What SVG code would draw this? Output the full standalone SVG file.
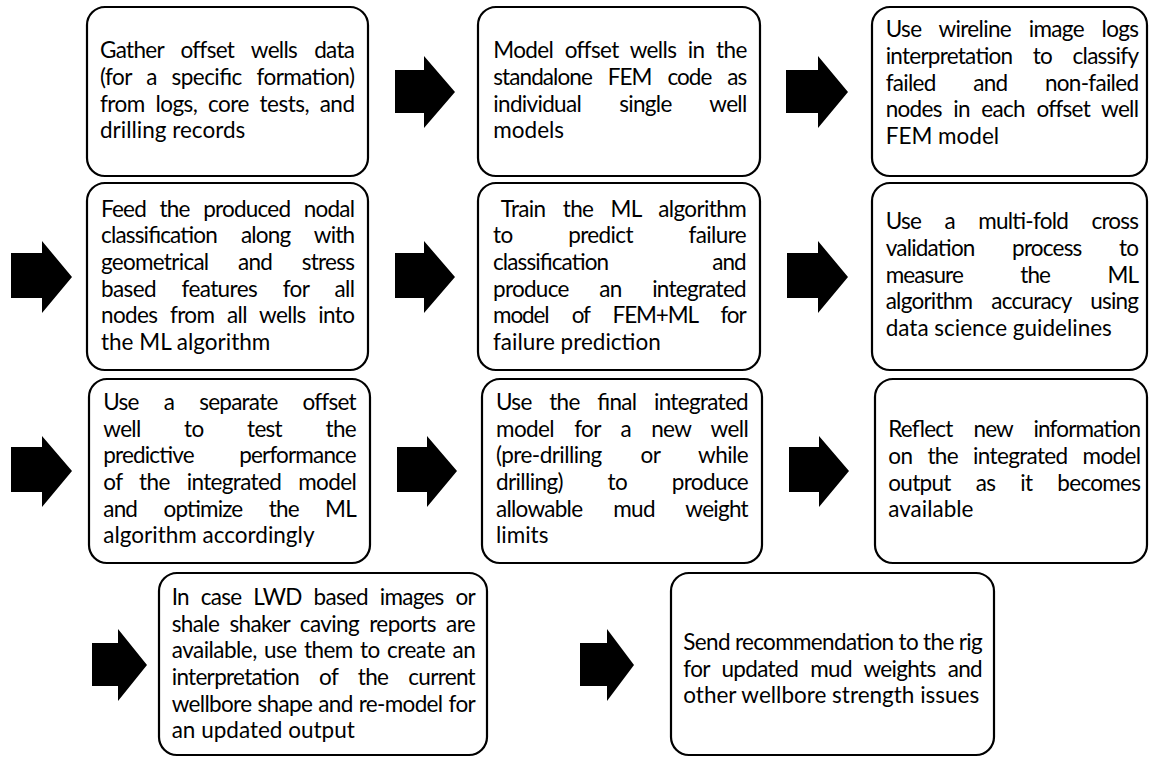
<svg xmlns="http://www.w3.org/2000/svg" width="1149" height="757" viewBox="0 0 1149 757">
<style>
.box{fill:#fff;stroke:#000;stroke-width:2.2}
.arr{fill:#000;stroke:none}
.t{font-family:Lato,"Liberation Sans",sans-serif;font-size:22.5px;fill:#000}
</style>
<rect width="1149" height="757" fill="#fff"/>
<g id="connectors">
<polygon class="arr" points="395,70 424,70 424,56 455,92 424,128 424,113 395,113"/>
<polygon class="arr" points="786,70 818,70 818,56 848,92 818,128 818,113 786,113"/>
<polygon class="arr" points="11,253 42,253 42,241 72,277 42,313 42,298 11,298"/>
<polygon class="arr" points="395,253 424,253 424,241 455,277 424,313 424,298 395,298"/>
<polygon class="arr" points="787,253 818,253 818,241 848,277 818,313 818,298 787,298"/>
<polygon class="arr" points="11,447 42,447 42,436 72,471 42,507 42,492 11,492"/>
<polygon class="arr" points="397,447 427,447 427,436 457,471 427,507 427,492 397,492"/>
<polygon class="arr" points="789,447 819,447 819,436 849,471 819,507 819,492 789,492"/>
<polygon class="arr" points="92,643 118,643 118,629 147,665 118,701 118,686 92,686"/>
<polygon class="arr" points="580,643 607,643 607,629 634,665 607,701 607,686 580,686"/>
</g>
<g id="n1">
<rect class="box" x="87" y="7" width="281" height="169" rx="18"/>
<text class="t" x="100" y="58.3" textLength="255" lengthAdjust="spacing" word-spacing="12">Gather offset wells data</text>
<text class="t" x="100" y="85" textLength="255" lengthAdjust="spacing" word-spacing="9.5">(for a specific formation)</text>
<text class="t" x="100" y="111.7" textLength="255" lengthAdjust="spacing" word-spacing="5.5">from logs, core tests, and</text>
<text class="t" x="100" y="138.3">drilling records</text>
</g>
<g id="n2">
<rect class="box" x="478" y="7" width="282" height="169" rx="18"/>
<text class="t" x="493.3" y="58.3" textLength="254" lengthAdjust="spacing" word-spacing="6.5">Model offset wells in the</text>
<text class="t" x="493.3" y="85" textLength="254" lengthAdjust="spacing" word-spacing="11">standalone FEM code as</text>
<text class="t" x="493.3" y="111.7" textLength="254" lengthAdjust="spacing" word-spacing="33">individual single well</text>
<text class="t" x="493.3" y="138.3">models</text>
</g>
<g id="n3">
<rect class="box" x="872" y="7" width="275" height="169" rx="18"/>
<text class="t" x="885.7" y="37.3" textLength="253.3" lengthAdjust="spacing" word-spacing="12.5">Use wireline image logs</text>
<text class="t" x="885.7" y="64" textLength="253.3" lengthAdjust="spacing" word-spacing="15.5">interpretation to classify</text>
<text class="t" x="885.7" y="90.7" textLength="253.3" lengthAdjust="spacing" word-spacing="32.5">failed and non-failed</text>
<text class="t" x="885.7" y="117.3" textLength="253.3" lengthAdjust="spacing" word-spacing="6.5">nodes in each offset well</text>
<text class="t" x="885.7" y="144">FEM model</text>
</g>
<g id="n4">
<rect class="box" x="87" y="183" width="281" height="187" rx="18"/>
<text class="t" x="101" y="216.7" textLength="254" lengthAdjust="spacing" word-spacing="8.5">Feed the produced nodal</text>
<text class="t" x="101" y="243.3" textLength="254" lengthAdjust="spacing" word-spacing="19">classification along with</text>
<text class="t" x="101" y="270" textLength="254" lengthAdjust="spacing" word-spacing="24.5">geometrical and stress</text>
<text class="t" x="101" y="296.7" textLength="254" lengthAdjust="spacing" word-spacing="20.5">based features for all</text>
<text class="t" x="101" y="323.3" textLength="254" lengthAdjust="spacing" word-spacing="7.5">nodes from all wells into</text>
<text class="t" x="101" y="350">the ML algorithm</text>
</g>
<g id="n5">
<rect class="box" x="478" y="183" width="282" height="187" rx="18"/>
<text class="t" x="500.7" y="216.7" textLength="246" lengthAdjust="spacing" word-spacing="12">Train the ML algorithm</text>
<text class="t" x="493" y="243.3" textLength="253.7" lengthAdjust="spacing" word-spacing="50.5">to predict failure</text>
<text class="t" x="493" y="270" textLength="253.7" lengthAdjust="spacing" word-spacing="99">classification and</text>
<text class="t" x="493" y="296.7" textLength="253.7" lengthAdjust="spacing" word-spacing="25.5">produce an integrated</text>
<text class="t" x="493" y="323.3" textLength="253.7" lengthAdjust="spacing" word-spacing="18.5">model of FEM+ML for</text>
<text class="t" x="493" y="350">failure prediction</text>
</g>
<g id="n6">
<rect class="box" x="872" y="183" width="275" height="187" rx="18"/>
<text class="t" x="885.7" y="229.3" textLength="253.3" lengthAdjust="spacing" word-spacing="18.5">Use a multi-fold cross</text>
<text class="t" x="885.7" y="256" textLength="253.3" lengthAdjust="spacing" word-spacing="32.5">validation process to</text>
<text class="t" x="885.7" y="282.7" textLength="253.3" lengthAdjust="spacing" word-spacing="52.5">measure the ML</text>
<text class="t" x="885.7" y="309.3" textLength="253.3" lengthAdjust="spacing" word-spacing="14">algorithm accuracy using</text>
<text class="t" x="885.7" y="336">data science guidelines</text>
</g>
<g id="n7">
<rect class="box" x="89" y="379" width="281" height="184" rx="18"/>
<text class="t" x="103.3" y="410" textLength="253.4" lengthAdjust="spacing" word-spacing="20">Use a separate offset</text>
<text class="t" x="103.3" y="436.7" textLength="253.4" lengthAdjust="spacing" word-spacing="38.5">well to test the</text>
<text class="t" x="103.3" y="463.3" textLength="253.4" lengthAdjust="spacing" word-spacing="40.5">predictive performance</text>
<text class="t" x="103.3" y="490" textLength="253.4" lengthAdjust="spacing" word-spacing="12">of the integrated model</text>
<text class="t" x="103.3" y="516.7" textLength="253.4" lengthAdjust="spacing" word-spacing="21.5">and optimize the ML</text>
<text class="t" x="103.3" y="543.3">algorithm accordingly</text>
</g>
<g id="n8">
<rect class="box" x="482" y="379" width="280" height="184" rx="18"/>
<text class="t" x="496" y="410" textLength="252.7" lengthAdjust="spacing" word-spacing="12.5">Use the final integrated</text>
<text class="t" x="496" y="436.7" textLength="252.7" lengthAdjust="spacing" word-spacing="15">model for a new well</text>
<text class="t" x="496" y="463.3" textLength="252.7" lengthAdjust="spacing" word-spacing="33.5">(pre-drilling or while</text>
<text class="t" x="496" y="490" textLength="252.7" lengthAdjust="spacing" word-spacing="39.5">drilling) to produce</text>
<text class="t" x="496" y="516.7" textLength="252.7" lengthAdjust="spacing" word-spacing="26">allowable mud weight</text>
<text class="t" x="496" y="543.3">limits</text>
</g>
<g id="n9">
<rect class="box" x="875" y="379" width="272" height="184" rx="18"/>
<text class="t" x="888.3" y="437.3" textLength="252.7" lengthAdjust="spacing" word-spacing="16">Reflect new information</text>
<text class="t" x="888.3" y="464" textLength="252.7" lengthAdjust="spacing" word-spacing="10">on the integrated model</text>
<text class="t" x="888.3" y="490.7" textLength="252.7" lengthAdjust="spacing" word-spacing="20">output as it becomes</text>
<text class="t" x="888.3" y="517.3">available</text>
</g>
<g id="n10">
<rect class="box" x="159" y="573" width="328" height="182" rx="18"/>
<text class="t" x="171.7" y="605" textLength="304" lengthAdjust="spacing" word-spacing="7">In case LWD based images or</text>
<text class="t" x="171.7" y="631.7" textLength="304" lengthAdjust="spacing" word-spacing="5">shale shaker caving reports are</text>
<text class="t" x="171.7" y="658.3" textLength="304" lengthAdjust="spacing" word-spacing="2">available, use them to create an</text>
<text class="t" x="171.7" y="685" textLength="304" lengthAdjust="spacing" word-spacing="15">interpretation of the current</text>
<text class="t" x="171.7" y="711.7" textLength="304" lengthAdjust="spacing" word-spacing="1">wellbore shape and re-model for</text>
<text class="t" x="171.7" y="738.3">an updated output</text>
</g>
<g id="n11">
<rect class="box" x="671" y="573" width="323" height="182" rx="18"/>
<text class="t" x="683.3" y="650" textLength="299.4" lengthAdjust="spacing" word-spacing="0">Send recommendation to the rig</text>
<text class="t" x="683.3" y="676.7" textLength="299.4" lengthAdjust="spacing" word-spacing="7">for updated mud weights and</text>
<text class="t" x="683.3" y="703.3">other wellbore strength issues</text>
</g>
</svg>
